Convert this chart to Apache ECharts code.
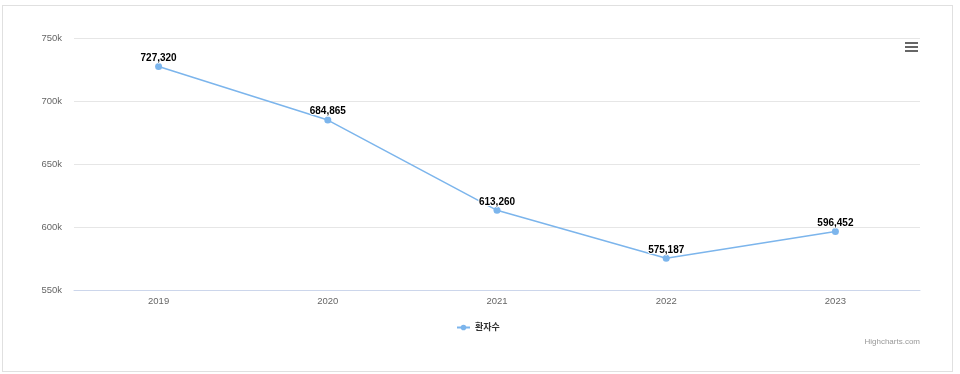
<!DOCTYPE html>
<html><head><meta charset="utf-8">
<script src="https://cdn.jsdelivr.net/npm/echarts@6/dist/echarts.min.js"></script>
<style>
html,body{margin:0;padding:0;background:#fff;}
#wrap{position:absolute;left:2px;top:5px;width:949px;height:365px;border:1px solid #e0e0e0;}
#c{position:absolute;left:0;top:0;width:960px;height:374px;}
</style></head>
<body>
<div id="wrap"></div>
<div id="c"></div>
<script>
const categories = ['2019','2020','2021','2022','2023'];
const values = [727320, 684865, 613260, 575187, 596452];
const seriesName = '환자수';
const yMin = 550000, yMax = 750000, yStep = 50000;

const FONT = '"Liberation Sans", "Noto Sans CJK KR", sans-serif';
const chart = echarts.init(document.getElementById('c'), null, {renderer:'canvas'});
chart.setOption({
  animation:false,
  backgroundColor:'transparent',
  textStyle:{fontFamily:FONT},
  grid:{left:74,right:40,top:38,bottom:84,containLabel:false},
  legend:{
    data:[seriesName],
    bottom:37, left:451,
    itemWidth:13, itemHeight:7, itemGap:8,
    textStyle:{fontFamily:FONT,fontSize:9,fontWeight:'bold',color:'#333'}
  },
  xAxis:{
    type:'category', data:categories, boundaryGap:true,
    axisLine:{show:true,lineStyle:{color:'#ccd6eb',width:1}},
    axisTick:{show:false},
    axisLabel:{color:'#666',fontSize:9.5,margin:7,fontFamily:FONT},
    splitLine:{show:false}
  },
  yAxis:{
    type:'value', min:yMin, max:yMax, interval:yStep,
    axisLine:{show:false}, axisTick:{show:false},
    axisLabel:{color:'#666',fontSize:9.5,margin:12,fontFamily:FONT,
      formatter:v=>(v/1000)+'k'},
    splitLine:{lineStyle:{color:'#e6e6e6',width:1}}
  },
  series:[{
    name:seriesName, type:'line', data:values,
    symbol:'circle', symbolSize:7,
    lineStyle:{color:'#7cb5ec',width:1.5},
    itemStyle:{color:'#7cb5ec'},
    label:{show:true,position:'top',distance:0,
      color:'#000',fontWeight:'bold',fontSize:10,fontFamily:FONT,
      textBorderColor:'#fff',textBorderWidth:2,
      formatter:p=>p.value.toLocaleString('en-US')}
  }],
  graphic:[
    {type:'rect',shape:{x:905,y:42,width:13,height:2},style:{fill:'#666'}},
    {type:'rect',shape:{x:905,y:46,width:13,height:2},style:{fill:'#666'}},
    {type:'rect',shape:{x:905,y:50,width:13,height:2},style:{fill:'#666'}},
    {type:'text',x:920,y:342,style:{text:'Highcharts.com',fill:'#999',fontSize:8,fontFamily:FONT,align:'right',verticalAlign:'middle'}}
  ]
});
</script>
</body></html>
